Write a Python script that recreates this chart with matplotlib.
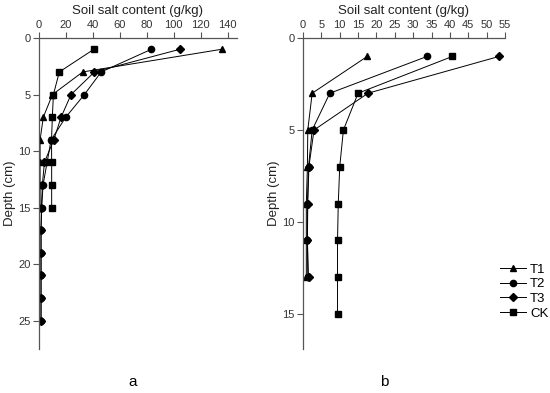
import matplotlib
matplotlib.use("Agg")
import matplotlib.pyplot as plt

plt.rcParams['font.family'] = ['Liberation Sans', 'DejaVu Sans']

# Panel a data
depth_a_T1 = [1, 3, 5, 7, 9, 11, 13, 15]
salt_a_T1 = [135.5, 32.5, 10, 3.2, 0.8, 0.8, 0.8, 0.8]
depth_a_T2 = [1, 3, 5, 7, 9, 11, 13, 15, 17, 19, 21, 23, 25]
salt_a_T2 = [83.4, 46.2, 33.7, 19.9, 9.0, 6.0, 3.0, 2.0, 1.5, 1.5, 1.5, 1.5, 1.5]
depth_a_T3 = [1, 3, 5, 7, 9, 11, 13, 15, 17, 19, 21, 23, 25]
salt_a_T3 = [104.5, 41.2, 23.8, 16.4, 11.0, 4.0, 2.5, 1.8, 1.5, 1.5, 1.5, 1.5, 1.5]
depth_a_CK = [1, 3, 5, 7, 9, 11, 13, 15]
salt_a_CK = [40.7, 15.1, 10.7, 9.9, 9.3, 9.4, 9.4, 9.4]

# Panel b data
depth_b_T1 = [1, 3, 5, 7, 9, 11, 13]
salt_b_T1 = [17.5, 2.5, 1.3, 1.2, 0.9, 0.9, 0.9]
depth_b_T2 = [1, 3, 5, 7, 9, 11, 13]
salt_b_T2 = [33.8, 7.3, 2.5, 1.5, 1.2, 1.2, 1.3]
depth_b_T3 = [1, 3, 5, 7, 9, 11, 13]
salt_b_T3 = [53.4, 17.7, 3.0, 1.6, 1.3, 1.2, 1.5]
depth_b_CK = [1, 3, 5, 7, 9, 11, 13, 15]
salt_b_CK = [40.7, 15.0, 11.0, 10.0, 9.6, 9.4, 9.4, 9.4]

labels = ["T1", "T2", "T3", "CK"]
markers = ["^", "o", "D", "s"]
msizes = [4.5, 4.5, 4.0, 4.0]

fig = plt.figure(figsize=(5.5, 3.93), dpi=100)
axa = fig.add_axes([39/550, 1-349/393, 198/550, 311/393])
axb = fig.add_axes([303/550, 1-349/393, 202/550, 311/393])

def style(ax, xmax, xticks, ymax, yticks):
    ax.set_xlim(0, xmax)
    ax.set_ylim(ymax, 0)
    ax.xaxis.tick_top()
    ax.xaxis.set_label_position('top')
    ax.set_xticks(xticks)
    ax.set_yticks(yticks)
    for s in ['right', 'bottom']:
        ax.spines[s].set_visible(False)
    for s in ['left', 'top']:
        ax.spines[s].set_color('#555555')
        ax.spines[s].set_linewidth(0.9)
    ax.tick_params(axis='both', direction='out', length=4, width=0.8,
                   color='#555555', labelsize=8, pad=2, labelcolor='#333333')
    ax.set_xlabel("Soil salt content (g/kg)", fontsize=9.5, labelpad=4, color='#222222')
    ax.set_ylabel("Depth (cm)", fontsize=9.5, labelpad=2, color='#222222')

series_a = [(salt_a_T1, depth_a_T1), (salt_a_T2, depth_a_T2),
            (salt_a_T3, depth_a_T3), (salt_a_CK, depth_a_CK)]
series_b = [(salt_b_T1, depth_b_T1), (salt_b_T2, depth_b_T2),
            (salt_b_T3, depth_b_T3), (salt_b_CK, depth_b_CK)]

for (x, y), lab, m, ms in zip(series_a, labels, markers, msizes):
    axa.plot(x, y, color='black', lw=0.7, marker=m, ms=ms, label=lab)
handles = []
for (x, y), lab, m, ms in zip(series_b, labels, markers, msizes):
    h, = axb.plot(x, y, color='black', lw=0.7, marker=m, ms=ms, label=lab)
    handles.append(h)

style(axa, 147, [0, 20, 40, 60, 80, 100, 120, 140], 27.5, [0, 5, 10, 15, 20, 25])
style(axb, 55, list(range(0, 56, 5)), 16.9, [0, 5, 10, 15])

fig.legend(handles=handles, labels=labels, loc='upper left',
           bbox_to_anchor=(493/550, 1-257/393), frameon=False, fontsize=9.5,
           handlelength=2.0, handletextpad=0.3, labelspacing=0.18,
           borderpad=0)

fig.text(133/550, 1-382/393, "a", ha='center', va='center', fontsize=11)
fig.text(384/550, 1-382/393, "b", ha='center', va='center', fontsize=11)

fig.savefig("out.png", dpi=100)
